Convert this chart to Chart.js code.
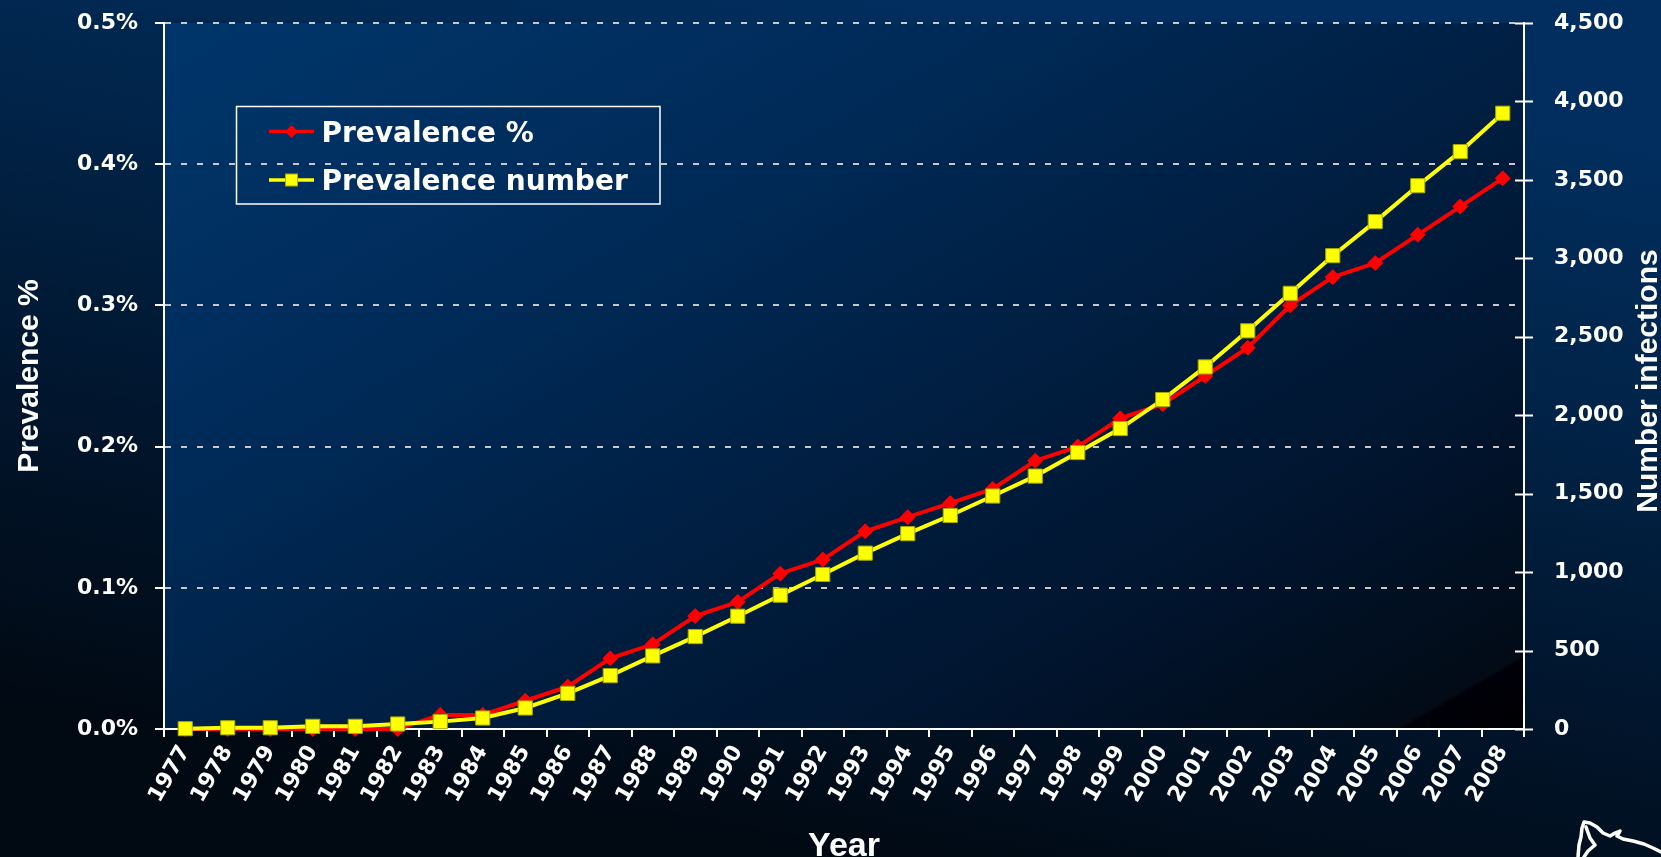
<!DOCTYPE html>
<html>
<head>
<meta charset="utf-8">
<title>HIV prevalence 1977-2008</title>
<script src="https://cdn.jsdelivr.net/npm/chart.js@4.4.1/dist/chart.umd.min.js"></script>
<style>
  html, body { margin: 0; padding: 0; background: #010a15; overflow: hidden; }
  #wrap { width: 1661px; height: 857px; position: relative; }
  canvas { display: block; }
</style>
</head>
<body>
<div id="wrap"><canvas id="c" width="1661" height="857"></canvas></div>
<script>
// ---- data ----
const years = ['1977','1978','1979','1980','1981','1982','1983','1984','1985','1986','1987',
  '1988','1989','1990','1991','1992','1993','1994','1995','1996','1997','1998','1999',
  '2000','2001','2002','2003','2004','2005','2006','2007','2008'];

// prevalence, in percent
const prevalencePct = [0, 0, 0, 0, 0, 0, 0.01, 0.01, 0.02, 0.03, 0.05,
  0.06, 0.08, 0.09, 0.11, 0.12, 0.14, 0.15, 0.16, 0.17, 0.19, 0.20, 0.22,
  0.23, 0.25, 0.27, 0.30, 0.32, 0.33, 0.35, 0.37, 0.39];

// number of people living with infection
const prevalenceNumber = [2, 8, 8, 17, 17, 32, 47, 70, 134, 227, 340,
  466, 589, 719, 853, 985, 1121, 1245, 1361, 1485, 1612, 1762, 1915,
  2100, 2308, 2538, 2777, 3017, 3234, 3463, 3680, 3925];

const seriesNames = ['Prevalence %', 'Prevalence number'];
const axisTitles = ['Prevalence %', 'Number infections', 'Year'];

// ---- styling ----
const WHITE = '#ffffff';
const RED = '#ff0000';
const YELLOW = '#ffff00';
const tickFont = { family: '"DejaVu Sans", Verdana, sans-serif', size: 22, weight: 'bold' };
const yearFont = { family: '"DejaVu Sans", Verdana, sans-serif', size: 22, weight: 'bold' };
const TITLE_FONT = 'bold 30px "Liberation Sans", Arial, sans-serif';
const X_TITLE_FONT = 'bold 34px "Liberation Sans", Arial, sans-serif';
const LEGEND_FONT = 'bold 28px "DejaVu Sans", Verdana, sans-serif';

// slide-style backgrounds behind the whole canvas and the plot area
const backgroundPlugin = {
  id: 'backgrounds',
  beforeDraw(chart) {
    const { ctx, width, height, chartArea: a } = chart;
    ctx.save();
    const outer = ctx.createLinearGradient(width * 0.55, 0, width * 0.45, height);
    outer.addColorStop(0, '#012e5e');
    outer.addColorStop(0.3, '#012449');
    outer.addColorStop(0.65, '#01152c');
    outer.addColorStop(1, '#010912');
    ctx.fillStyle = outer;
    ctx.fillRect(0, 0, width, height);

    const dx = 0.5, dy = 0.866;
    const len = (a.right - a.left) * dx + (a.bottom - a.top) * dy;
    const inner = ctx.createLinearGradient(a.left, a.top, a.left + dx * len, a.top + dy * len);
    inner.addColorStop(0, '#00366b');
    inner.addColorStop(0.3, '#002b59');
    inner.addColorStop(0.55, '#001f42');
    inner.addColorStop(0.8, '#01132b');
    inner.addColorStop(0.95, '#020b16');
    inner.addColorStop(0.953, '#000008');
    inner.addColorStop(1, '#000003');
    ctx.fillStyle = inner;
    ctx.fillRect(a.left, a.top, a.right - a.left, a.bottom - a.top);
    ctx.restore();
  }
};

// right-axis cross ticks, axis titles, boxed legend and corner emblem
const decorPlugin = {
  id: 'decor',
  afterDraw(chart) {
    const { ctx, chartArea: a, width, height } = chart;
    const y2 = chart.scales.y2;
    ctx.save();

    // ticks crossing the right axis
    ctx.strokeStyle = WHITE;
    ctx.lineWidth = 2;
    y2.ticks.forEach(t => {
      const py = Math.round(y2.getPixelForValue(t.value)) + 0.5;
      ctx.beginPath();
      ctx.moveTo(a.right - 9, py);
      ctx.lineTo(a.right + 9, py);
      ctx.stroke();
    });

    // axis titles
    ctx.fillStyle = WHITE;
    ctx.font = TITLE_FONT;
    ctx.textAlign = 'center';
    ctx.textBaseline = 'alphabetic';
    const midY = (a.top + a.bottom) / 2;
    ctx.save();
    ctx.translate(38, midY);
    ctx.rotate(-Math.PI / 2);
    ctx.fillText(axisTitles[0], 0, 0);
    ctx.restore();
    ctx.save();
    ctx.translate(1657, midY + 5);
    ctx.rotate(-Math.PI / 2);
    ctx.fillText(axisTitles[1], 0, 0);
    ctx.restore();
    ctx.font = X_TITLE_FONT;
    ctx.fillText(axisTitles[2], (a.left + a.right) / 2, height - 1);

    // legend box
    const lx = a.left + 72.5, ly = a.top + 83.5, lw = 423.5, lh = 97.5;
    ctx.lineWidth = 1.5;
    ctx.strokeStyle = WHITE;
    ctx.strokeRect(lx, ly, lw, lh);
    const rows = [ly + 25, ly + 73.5];
    chart.data.datasets.forEach((ds, i) => {
      const ry = rows[i];
      const x0 = lx + 32.5, x1 = lx + 77.5, cx = (x0 + x1) / 2;
      ctx.strokeStyle = ds.borderColor;
      ctx.lineWidth = 3.5;
      ctx.beginPath();
      ctx.moveTo(x0, ry);
      ctx.lineTo(x1, ry);
      ctx.stroke();
      ctx.fillStyle = ds.pointBackgroundColor;
      if (ds.pointStyle === 'rectRot') {
        const r = 6.5;
        ctx.beginPath();
        ctx.moveTo(cx, ry - r); ctx.lineTo(cx + r, ry); ctx.lineTo(cx, ry + r); ctx.lineTo(cx - r, ry);
        ctx.closePath();
        ctx.fill();
      } else {
        const s = 6;
        ctx.fillRect(cx - s, ry - s, 2 * s, 2 * s);
        ctx.strokeStyle = ds.pointBorderColor;
        ctx.lineWidth = 1;
        ctx.strokeRect(cx - s, ry - s, 2 * s, 2 * s);
      }
      ctx.fillStyle = WHITE;
      ctx.font = LEGEND_FONT;
      ctx.textAlign = 'left';
      ctx.textBaseline = 'alphabetic';
      ctx.fillText(ds.label, lx + 85, ry + 10);
    });

    // emblem outline peeking in at the bottom-right corner
    ctx.strokeStyle = WHITE;
    ctx.lineWidth = 3.5;
    ctx.lineJoin = 'round';
    ctx.lineCap = 'round';
    ctx.beginPath();
    ctx.moveTo(width - 83, height);
    ctx.lineTo(width - 82, height - 12);
    ctx.lineTo(width - 80, height - 20);
    ctx.lineTo(width - 79, height - 29);
    ctx.lineTo(width - 77, height - 35);
    ctx.lineTo(width - 71, height - 34);
    ctx.lineTo(width - 64, height - 30);
    ctx.lineTo(width - 58, height - 24);
    ctx.lineTo(width - 51, height - 21);
    ctx.lineTo(width - 46, height - 24);
    ctx.lineTo(width - 41, height - 26);
    ctx.lineTo(width - 44, height - 21);
    ctx.lineTo(width - 38, height - 18);
    ctx.lineTo(width - 28, height - 16);
    ctx.lineTo(width - 17, height - 13);
    ctx.lineTo(width - 8, height - 9);
    ctx.lineTo(width, height - 5);
    ctx.stroke();
    ctx.beginPath();
    ctx.moveTo(width - 75, height - 30);
    ctx.lineTo(width - 71, height - 19);
    ctx.lineTo(width - 66, height - 12);
    ctx.lineTo(width - 73, height - 6);
    ctx.lineTo(width - 77, height);
    ctx.stroke();

    ctx.restore();
  }
};

// fixed axis box sizes keep the plot area where the slide has it
function fixVertical(width) {
  return scale => {
    scale.width = width;
    scale.paddingTop = 0;
    scale.paddingBottom = 0;
  };
}

new Chart(document.getElementById('c'), {
  type: 'line',
  data: {
    labels: years,
    datasets: [
      {
        label: seriesNames[0],
        data: prevalencePct,
        yAxisID: 'y',
        borderColor: RED,
        backgroundColor: RED,
        borderWidth: 4,
        tension: 0,
        pointStyle: 'rectRot',
        pointRadius: 7.5,
        pointBackgroundColor: RED,
        pointBorderColor: RED,
        pointBorderWidth: 1,
        order: 1,
        clip: false
      },
      {
        label: seriesNames[1],
        data: prevalenceNumber,
        yAxisID: 'y2',
        borderColor: YELLOW,
        backgroundColor: YELLOW,
        borderWidth: 4,
        tension: 0,
        pointStyle: 'rect',
        pointRadius: 10,
        pointBackgroundColor: YELLOW,
        pointBorderColor: '#a9a900',
        pointBorderWidth: 1,
        order: 0,
        clip: false
      }
    ]
  },
  options: {
    responsive: false,
    animation: false,
    devicePixelRatio: 1,
    layout: { padding: { top: 23, left: 0, right: 0, bottom: 0 } },
    plugins: { legend: { display: false }, tooltip: { enabled: false } },
    scales: {
      x: {
        offset: true,
        grid: {
          display: true, offset: true, drawOnChartArea: false, drawTicks: true,
          tickLength: 8, color: WHITE, tickColor: WHITE, tickWidth: 2, lineWidth: 2
        },
        border: { color: WHITE, width: 2 },
        ticks: {
          color: WHITE, font: yearFont, autoSkip: false,
          maxRotation: 60, minRotation: 60, padding: 4
        },
        afterFit(scale) { scale.height = 128; }
      },
      y: {
        position: 'left',
        min: 0, max: 0.5,
        ticks: {
          stepSize: 0.1, color: WHITE, font: tickFont, padding: 17,
          callback: v => v.toFixed(1) + '%'
        },
        grid: {
          color: c => (c.tick && c.tick.value === 0) ? 'rgba(0,0,0,0)' : '#c8c8c8',
          lineWidth: 2, drawTicks: true, tickLength: 9, tickColor: WHITE, tickWidth: 2
        },
        border: { color: WHITE, width: 2, dash: [6, 10] },
        afterFit: fixVertical(164)
      },
      y2: {
        position: 'right',
        min: 0, max: 4500,
        ticks: {
          stepSize: 500, color: WHITE, font: tickFont, padding: 22,
          callback: v => v.toLocaleString('en-US')
        },
        grid: { display: false },
        border: { color: WHITE, width: 2 },
        afterFit: fixVertical(137)
      }
    }
  },
  plugins: [backgroundPlugin, decorPlugin]
});
</script>
</body>
</html>
